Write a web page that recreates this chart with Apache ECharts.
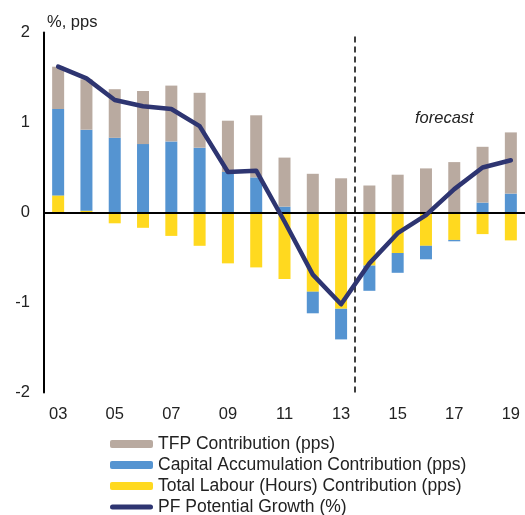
<!DOCTYPE html>
<html>
<head>
<meta charset="utf-8">
<script src="https://cdn.jsdelivr.net/npm/echarts@6/dist/echarts.min.js"></script>
<style>
  html, body { margin: 0; padding: 0; background: #fff; }
  #chart { width: 525px; height: 515px; }
</style>
</head>
<body>
<div id="chart"></div>
<script>
// years 2003 - 2019, forecast from 2014
var years = ['03','04','05','06','07','08','09','10','11','12','13','14','15','16','17','18','19'];

var labour = [0.19, 0.02, -0.12, -0.17, -0.26, -0.37, -0.565, -0.61, -0.74, -0.88, -1.07, -0.59, -0.45, -0.37, -0.305, -0.24, -0.31];
var capital = [0.96, 0.90, 0.83, 0.76, 0.79, 0.72, 0.45, 0.39, 0.065, -0.24, -0.34, -0.28, -0.22, -0.15, -0.015, 0.11, 0.21];
var tfp = [0.47, 0.56, 0.54, 0.59, 0.62, 0.61, 0.57, 0.69, 0.545, 0.43, 0.38, 0.30, 0.42, 0.49, 0.56, 0.62, 0.68];
var potential = [1.62, 1.49, 1.25, 1.18, 1.15, 0.96, 0.45, 0.465, -0.1, -0.69, -1.02, -0.565, -0.23, -0.03, 0.26, 0.50, 0.58];

var forecastStart = 10.5; // between 13 and 14

var chart = echarts.init(document.getElementById('chart'));

var font = 'Liberation Sans, Arial, sans-serif';

var option = {
    animation: false,
    textStyle: { fontFamily: font },
    grid: {
        left: 44,
        right: 0,
        top: 32.5,
        bottom: 122.5,
        containLabel: false
    },
    legend: {
        orient: 'vertical',
        left: 110,
        top: 435,
        height: 120,
        padding: 0,
        itemWidth: 43,
        itemHeight: 8,
        itemGap: 3,
        textStyle: { fontSize: 17.5, lineHeight: 18, color: '#222', fontFamily: font },
        data: [
            'TFP Contribution (pps)',
            'Capital Accumulation Contribution (pps)',
            'Total Labour (Hours) Contribution (pps)',
            {
                name: 'PF Potential Growth (%)',
                icon: 'path://M2.5,0 L40.5,0 A2.5,2.5 0 0 1 40.5,5 L2.5,5 A2.5,2.5 0 0 1 2.5,0 Z',
                itemStyle: { color: '#2E3571' }
            }
        ]
    },
    xAxis: [{
        type: 'category',
        data: years,
        axisLine: { show: false },
        axisTick: { show: false },
        axisLabel: { interval: 1, fontSize: 16.5, color: '#222', margin: 13 }
    }, {
        type: 'value',
        min: -0.5,
        max: 16.5,
        show: false
    }],
    yAxis: {
        type: 'value',
        min: -2,
        max: 2,
        interval: 1,
        axisLine: { show: true, onZero: false, lineStyle: { color: '#000', width: 2 } },
        axisTick: { show: false },
        splitLine: { show: false },
        axisLabel: { fontSize: 16.5, color: '#222', margin: 14 }
    },
    graphic: [{
        type: 'text',
        left: 47,
        top: 14,
        style: { text: '%, pps', fontSize: 16.5, fill: '#222', fontFamily: font }
    }, {
        type: 'text',
        left: 415,
        top: 110,
        style: { text: 'forecast', fontSize: 16.5, fontStyle: 'italic', fill: '#222', fontFamily: font }
    }],
    series: [{
        name: 'Total Labour (Hours) Contribution (pps)',
        type: 'bar',
        stack: 'pf',
        barWidth: 12,
        itemStyle: { color: '#FFD91F' },
        data: labour,
        markLine: {
            silent: true,
            symbol: 'none',
            label: { show: false },
            lineStyle: { color: '#000', width: 2, type: 'solid' },
            data: [{ yAxis: 0 }]
        },
        z: 2
    }, {
        name: 'Capital Accumulation Contribution (pps)',
        type: 'bar',
        stack: 'pf',
        barWidth: 12,
        itemStyle: { color: '#5594D1' },
        data: capital
    }, {
        name: 'TFP Contribution (pps)',
        type: 'bar',
        stack: 'pf',
        barWidth: 12,
        itemStyle: { color: '#B9AAA0' },
        data: tfp
    }, {
        name: 'PF Potential Growth (%)',
        type: 'line',
        symbol: 'none',
        data: potential,
        lineStyle: { color: '#2E3571', width: 4.5, cap: 'round', join: 'round' },
        itemStyle: { color: '#2E3571' },
        z: 5
    }, {
        name: 'forecast-divider',
        type: 'line',
        xAxisIndex: 1,
        data: [],
        markLine: {
            silent: true,
            symbol: 'none',
            label: { show: false },
            lineStyle: { color: '#000', width: 1.5, type: [6, 4] },
            data: [{ xAxis: forecastStart }]
        }
    }]
};

chart.setOption(option);
</script>
</body>
</html>
